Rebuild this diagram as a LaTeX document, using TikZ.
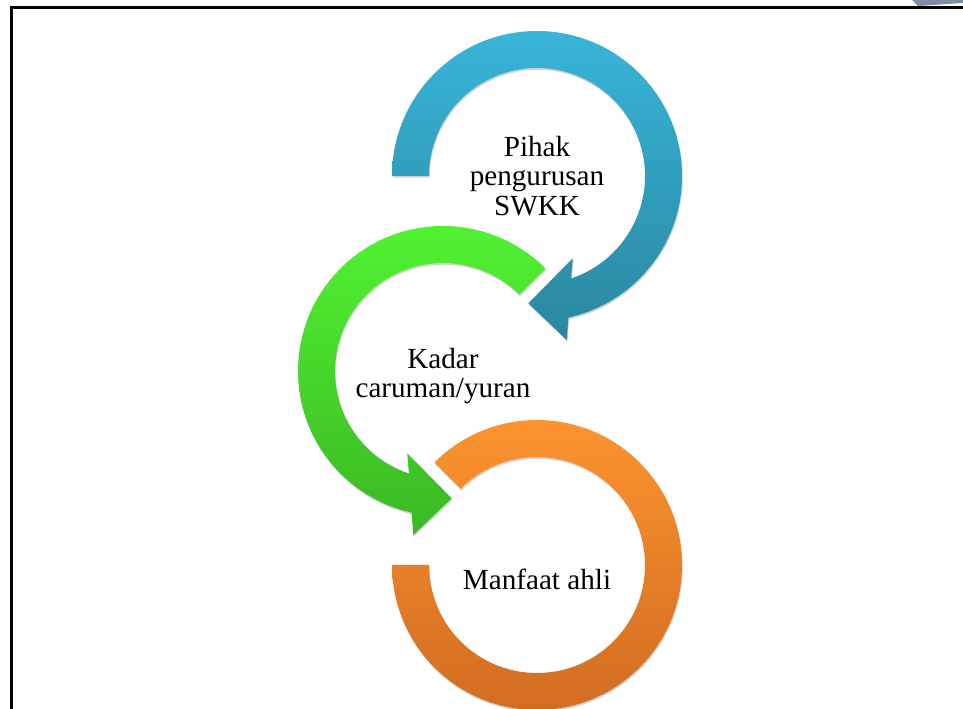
\documentclass[tikz,border=0pt]{standalone}
\usepackage{fontspec}
\setmainfont{Liberation Serif}
\usepackage{tikz}
\usetikzlibrary{calc,shadows}
\definecolor{bluetopc}{HTML}{38B5D9}
\definecolor{bluebotc}{HTML}{2A87A0}
\definecolor{greentopc}{HTML}{52F433}
\definecolor{greenbotc}{HTML}{3BB823}
\definecolor{orangetopc}{HTML}{FF9530}
\definecolor{orangebotc}{HTML}{CF6B21}
\definecolor{cornerc}{HTML}{7D8EA0}
\tikzset{
  loop/.style={drop shadow={shadow xshift=0.4pt, shadow yshift=-1pt, opacity=0.18, fill=black}},
  blueloop/.style={loop, top color=bluetopc, bottom color=bluebotc},
  greenloop/.style={loop, top color=greentopc, bottom color=greenbotc},
  orangeloop/.style={loop, top color=orangetopc, bottom color=orangebotc},
  lbl/.style={font=\fontsize{16.6}{16.6}\selectfont, align=center, inner sep=0pt},
  frame/.style={draw=black, line width=1.5pt},
}

\begin{document}
\begin{tikzpicture}[x=0.02cm,y=0.02cm]
\useasboundingbox (0,0) rectangle (963,709);
% frame and corner
\fill[cornerc] (912,709) -- (918,703) -- (963,706) -- (963,709) -- cycle;
\draw[frame] (963,701.5) -- (11.5,701.5) -- (11.5,0);
% ring centres
\coordinate (bc) at (537,533);
\coordinate (gc) at (443,338);
\coordinate (oc) at (537,144);
% first arrow
\shade[blueloop] ($(bc)+(180:145)$) arc (180:-77.5:145) -- ($(bc)+(-79.7:166.7)$) -- ($(bc)+(-93.9:127.6)$) -- ($(bc)+(-66.5:89.7)$) -- ($(bc)+(-71.6:108)$) arc (-71.6:180:108) -- cycle;
% second arrow
\shade[greenloop] ($(gc)+(45:145)$) arc (45:257.5:145) -- ($(gc)+(259.7:166.7)$) -- ($(gc)+(273.9:127.6)$) -- ($(gc)+(246.5:89.7)$) -- ($(gc)+(251.6:108)$) arc (251.6:45:108) -- cycle;
% last ring
\shade[orangeloop] ($(oc)+(135:145)$) arc (135:-180:145) -- ($(oc)+(180:108)$) arc (-180:135:108) -- cycle;
% labels
\node[lbl] (mgmt) at (bc) {Pihak\\pengurusan\\SWKK};
\node[lbl] (rate) at ([yshift=-3]gc) {Kadar\\caruman/yuran};
\node[lbl] (benefit) at ([yshift=-8]oc) {Manfaat ahli};
\end{tikzpicture}
\end{document}
